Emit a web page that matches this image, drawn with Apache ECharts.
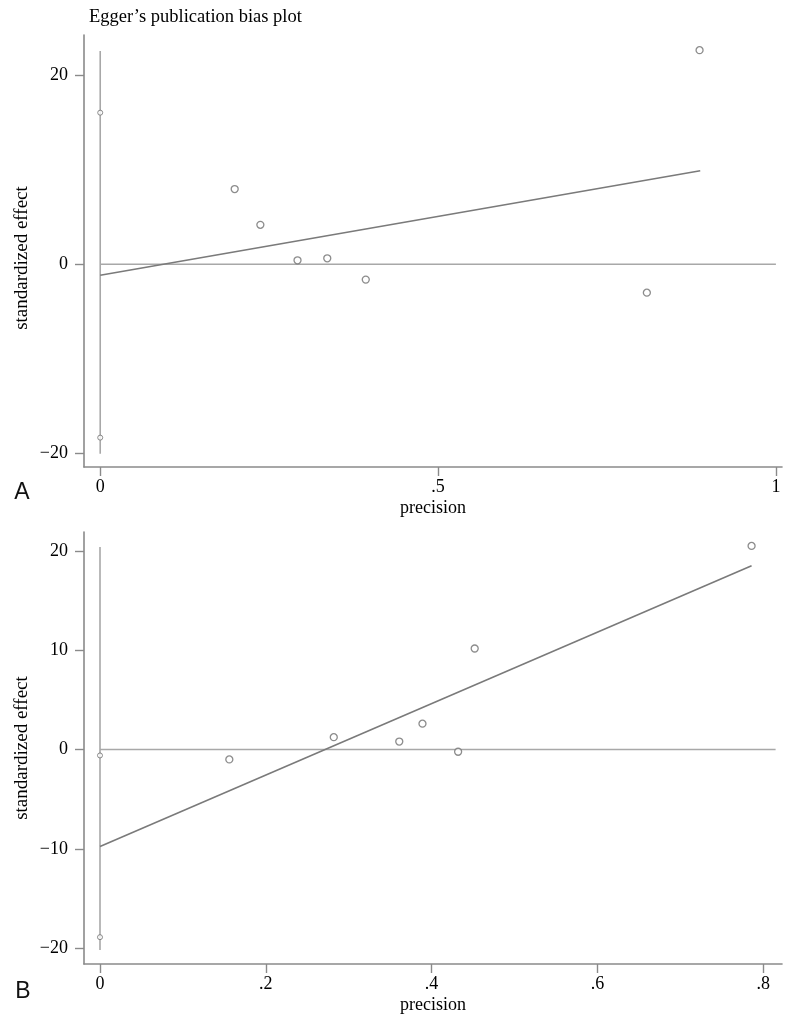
<!DOCTYPE html>
<html>
<head>
<meta charset="utf-8">
<script src="https://cdn.jsdelivr.net/npm/echarts@6/dist/echarts.min.js"></script>
<style>
html,body{margin:0;padding:0;background:#fff;}
#chart{width:800px;height:1015px;}
</style>
</head>
<body>
<div id="chart"></div>
<script>
// ---- Panel A data ----
const precisionA = [0.199, 0.237, 0.292, 0.336, 0.393, 0.809, 0.887];
const effectA    = [7.94, 4.16, 0.42, 0.63, -1.62, -3.0, 22.6];
const ciMarkA    = [16.0, -18.3];        // markers at precision 0
const ciLineA    = [22.5, -20.0];        // vertical line at precision 0
const fitXA      = [0, 0.888];
const fitYA      = [-1.16, 9.87];
const zeroXA     = [0, 1];
const xTicksA    = [0, 0.5, 1];
const yTicksA    = [-20, 0, 20];

// ---- Panel B data ----
const precisionB = [0.156, 0.282, 0.361, 0.389, 0.432, 0.452, 0.786];
const effectB    = [-1.0, 1.24, 0.8, 2.6, -0.23, 10.17, 20.5];
const ciMarkB    = [-0.6, -18.9];
const ciLineB    = [20.4, -20.2];
const fitXB      = [0, 0.786];
const fitYB      = [-9.76, 18.5];
const zeroXB     = [0, 0.815];
const xTicksB    = [0, 0.2, 0.4, 0.6, 0.8];
const yTicksB    = [-20, -10, 0, 10, 20];

const GRAY = '#8a8a8a';
const PT = '#6f6f6f';
const SERIF = '"Liberation Serif","DejaVu Serif",serif';

const fmtX = v => { if (v === 0) return '0'; if (v === 1) return '1'; return String(+v.toFixed(2)).replace(/^0/, ''); };
const fmtY = v => v < 0 ? '\u2212' + Math.abs(v) : String(v);

function xAxis(gi, min, max, ticks) {
  return {
    type: 'value', gridIndex: gi, min: min, max: max,
    name: 'precision', nameLocation: 'middle', nameGap: 32,
    nameTextStyle: { fontFamily: SERIF, fontSize: 18, color: '#000' },
    axisLine: { show: true, onZero: false, lineStyle: { color: GRAY, width: 1.6 } },
    axisTick: { show: true, length: 9, customValues: ticks, lineStyle: { color: GRAY, width: 1.4 } },
    axisLabel: { customValues: ticks, formatter: fmtX, margin: 11, fontFamily: SERIF, fontSize: 18, color: '#000' },
    splitLine: { show: false }
  };
}
function yAxis(gi, min, max, ticks) {
  return {
    type: 'value', gridIndex: gi, min: min, max: max,
    axisLine: { show: true, onZero: false, lineStyle: { color: GRAY, width: 1.6 } },
    axisTick: { show: true, length: 9, customValues: ticks, lineStyle: { color: GRAY, width: 1.4 } },
    axisLabel: { customValues: ticks, formatter: fmtY, margin: 16, fontFamily: SERIF, fontSize: 18, color: '#000' },
    splitLine: { show: false }
  };
}
function pairs(xs, ys) { return xs.map((x, i) => [x, ys[i]]); }

function panelSeries(gi, px, py, ciMark, ciLine, fx, fy, zx) {
  const line = (data, color, w) => ({
    type: 'line', xAxisIndex: gi, yAxisIndex: gi, data: data, symbol: 'none',
    lineStyle: { color: color, width: w }, silent: true, animation: false, z: 2
  });
  return [
    line(pairs([0, 0], ciLine), '#a8a8a8', 1.6),
    line(pairs(zx, [0, 0]), '#a8a8a8', 1.5),
    line(pairs(fx, fy), '#7a7a7a', 1.6),
    {
      type: 'scatter', xAxisIndex: gi, yAxisIndex: gi, data: pairs([0, 0], ciMark),
      symbol: 'circle', symbolSize: 5,
      itemStyle: { color: '#fff', borderColor: PT, borderWidth: 1 }, animation: false, z: 3
    },
    {
      type: 'scatter', xAxisIndex: gi, yAxisIndex: gi, data: pairs(px, py),
      symbol: 'circle', symbolSize: 7,
      itemStyle: { color: '#fff', borderColor: PT, borderWidth: 1.3 }, animation: false, z: 3
    }
  ];
}

const chart = echarts.init(document.getElementById('chart'), null, { renderer: 'canvas' });
chart.setOption({
  backgroundColor: '#fff',
  animation: false,
  title: {
    text: 'Egger\u2019s publication bias plot', left: 84, top: 3,
    textStyle: { fontFamily: SERIF, fontSize: 18.5, fontWeight: 'normal', color: '#000' }
  },
  grid: [
    { left: 84, top: 35, width: 698, height: 432 },
    { left: 84, top: 532, width: 698, height: 434 }
  ],
  xAxis: [ xAxis(0, -0.024, 1.009, xTicksA), xAxis(1, -0.0193, 0.8227, xTicksB) ],
  yAxis: [ yAxis(0, -21.4, 24.2, yTicksA), yAxis(1, -21.6, 21.9, yTicksB) ],
  graphic: [
    { type: 'text', x: 22, y: 258, rotation: Math.PI / 2,
      style: { text: 'standardized effect', font: '19px ' + SERIF, fill: '#000', align: 'center', verticalAlign: 'middle' } },
    { type: 'text', x: 22, y: 748, rotation: Math.PI / 2,
      style: { text: 'standardized effect', font: '19px ' + SERIF, fill: '#000', align: 'center', verticalAlign: 'middle' } },
    { type: 'text', x: 22, y: 493,
      style: { text: 'A', font: '23px "Liberation Sans", Arial, sans-serif', fill: '#111', align: 'center', verticalAlign: 'middle' } },
    { type: 'text', x: 23, y: 992,
      style: { text: 'B', font: '23px "Liberation Sans", Arial, sans-serif', fill: '#111', align: 'center', verticalAlign: 'middle' } }
  ],
  series: [
    ...panelSeries(0, precisionA, effectA, ciMarkA, ciLineA, fitXA, fitYA, zeroXA),
    ...panelSeries(1, precisionB, effectB, ciMarkB, ciLineB, fitXB, fitYB, zeroXB)
  ]
});
</script>
</body>
</html>
